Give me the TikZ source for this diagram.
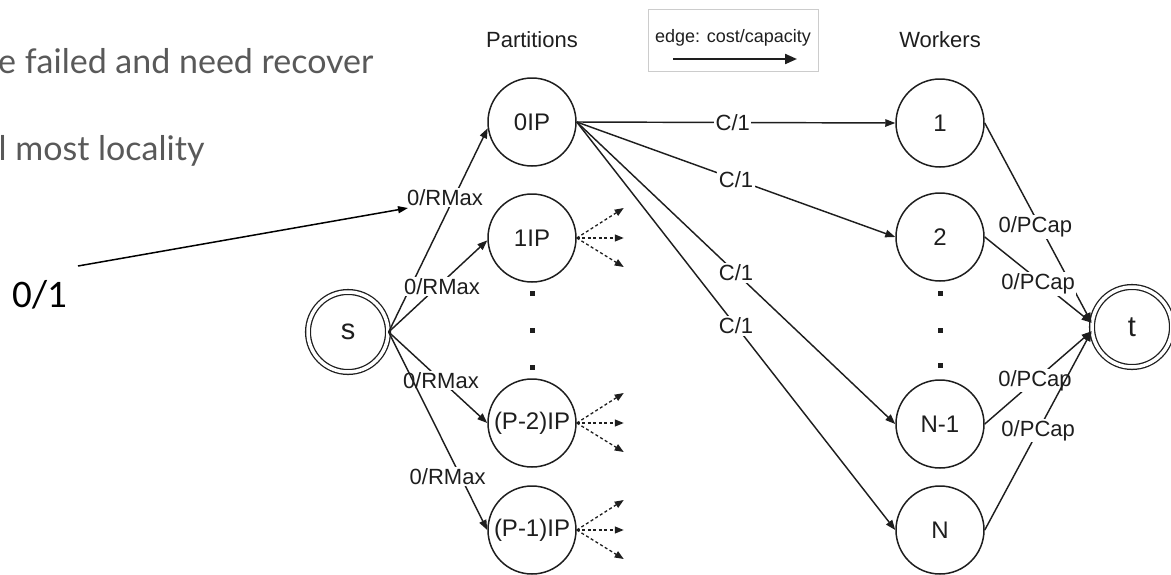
\documentclass[tikz,border=0pt]{standalone}
\usepackage{fontspec}
\setmainfont{Liberation Sans}
\newfontfamily\latofont{Lato}
\newfontfamily\carlitofont{Carlito}
\usetikzlibrary{arrows.meta}
\definecolor{inkline}{HTML}{1E1E1E}
\definecolor{notegray}{HTML}{595959}
\definecolor{boxgray}{HTML}{CCCCCC}

\begin{document}
\begin{tikzpicture}[x=1pt,y=-1pt,
  every node/.style={font=\fontsize{22}{26}\selectfont,text=inkline},
  vert/.style={circle,draw=inkline,line width=1.5pt,minimum size=88pt,inner sep=0pt,font=\fontsize{24}{28}\selectfont},
  term/.style={circle,draw=inkline,double,double distance=3.5pt,line width=1.3pt,minimum size=80pt,inner sep=0pt,font=\fontsize{29}{34}\selectfont},
  flow/.style={draw=inkline,line width=1.45pt,-{Triangle[length=10pt,width=7.5pt]}},
  lab/.style={fill=white,inner sep=1.5pt},
  spill/.style={draw=inkline,line width=1.3pt,dash pattern=on 3pt off 2.5pt,-{Triangle[length=9pt,width=7pt]}},
  dotmark/.style={fill=inkline,minimum size=5pt,inner sep=0pt},
  notetext/.style={font=\latofont\fontsize{34}{40}\selectfont,text=notegray},
]
\useasboundingbox (0,0) rectangle (1171,574);

% notes on the left
\node[notetext,anchor=base east] (n1) at (377,73) {e failed and need recover};
\node[notetext,anchor=base east] (n2) at (208,160) {l most locality};
\node[font=\carlitofont\fontsize{39}{45}\selectfont,text=black,anchor=base west] (one) at (9,307) {0/1};

% column headers
\node (hp) at (532,40) {Partitions};
\node (hw) at (940,40) {Workers};

% legend
\node[draw=boxgray,line width=1pt,minimum width=170pt,minimum height=62pt] (leg) at (733,40) {};
\node[font=\fontsize{18}{21}\selectfont] (legtxt) at (733,38) {edge: cost/capacity};
\coordinate (lg0) at (673,59);
\coordinate (lg1) at (797,59);
\draw[draw=inkline,line width=2.2pt,-{Triangle[length=12pt,width=10pt]}] (lg0) -- (lg1);

% vertices
\node[term] (s) at (348,332) {s};
\node[vert] (p0) at (532,122) {0IP};
\node[vert] (p1) at (532,238) {1IP};
\node[vert] (p2) at (532,423) {(P-2)IP};
\node[vert] (p3) at (532,530) {(P-1)IP};
\node[vert] (w1) at (940,123) {1};
\node[vert] (w2) at (940,237) {2};
\node[vert] (w3) at (940,424) {N-1};
\node[vert] (w4) at (940,530) {N};
\node[term] (t) at (1132,327) {t};

% elided vertices
\node[dotmark] (pd1) at (532,293) {};
\node[dotmark] (pd2) at (532,330) {};
\node[dotmark] (pd3) at (532,367) {};
\node[dotmark] (wd1) at (940,293) {};
\node[dotmark] (wd2) at (940,330) {};
\node[dotmark] (wd3) at (940,365) {};

% source to partitions
\draw[flow] (s.east) -- node[lab,pos=.66,xshift=-9pt] (r0) {0/RMax} (p0.188);
\draw[flow] (s.east) -- node[lab,pos=.5,xshift=4pt] (r1) {0/RMax} (p1.183);
\draw[flow] (s.east) -- node[lab,pos=.53] (r2) {0/RMax} (p2.west);
\draw[flow] (s.east) -- node[lab,pos=.73,xshift=-13pt] (r3) {0/RMax} (p3.west);

% partition 0 to workers
\draw[flow] (p0.east) -- node[lab,pos=.49] (c1) {C/1} (w1.west);
\draw[flow] (p0.east) -- node[lab,pos=.5] (c2) {C/1} (w2.west);
\draw[flow] (p0.east) -- node[lab,pos=.5] (c3) {C/1} (w3.west);
\draw[flow] (p0.east) -- node[lab,pos=.5] (c4) {C/1} (w4.west);

% workers to sink
\draw[flow] (w1.east) -- node[lab,pos=.52,xshift=-5pt] (k1) {0/PCap} (t.174);
\draw[flow] (w2.east) -- node[lab,pos=.5,yshift=-4pt] (k2) {0/PCap} (t.174);
\draw[flow] (w3.east) -- node[lab,pos=.47] (k3) {0/PCap} (t.186);
\draw[flow] (w4.east) -- node[lab,pos=.5] (k4) {0/PCap} (t.186);

% outgoing edges of the other partitions
\foreach \v in {p1,p2,p3} {
  \path (\v.east) ++(47,-30) coordinate (\v-up)
        (\v.east) ++(47,0) coordinate (\v-mid)
        (\v.east) ++(47,29) coordinate (\v-dn);
  \draw[spill] (\v.east) -- (\v-up);
  \draw[spill] (\v.east) -- (\v-mid);
  \draw[spill] (\v.east) -- (\v-dn);
}

% annotation arrow
\coordinate (a0) at (78,266);
\coordinate (a1) at (408,208);
\draw[draw=black,line width=1.5pt,-{Triangle[length=10pt,width=7pt]}] (a0) -- (a1);
\end{tikzpicture}
\end{document}
